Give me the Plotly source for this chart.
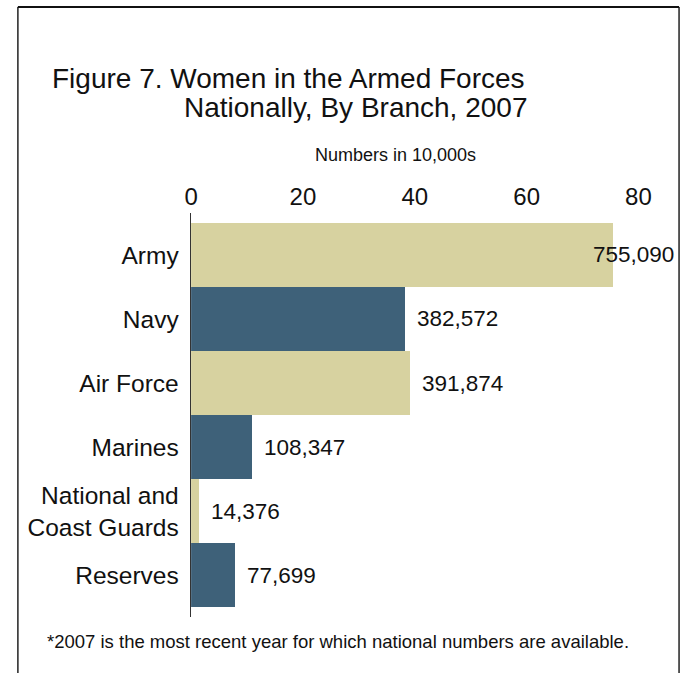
import plotly.graph_objects as go

# Data (numbers in 10,000s)
branches = ["Army", "Navy", "Air Force", "Marines", "National and<br>Coast Guards", "Reserves"]
counts = [755090, 382572, 391874, 108347, 14376, 77699]
values_10k = [c / 10000 for c in counts]
value_labels = ["755,090", "382,572", "391,874", "108,347", "14,376", "77,699"]
tick_vals = [0, 20, 40, 60, 80]
tick_text = ["0", "20", "40", "60", "80"]

BEIGE = "#D7D2A0"
BLUE = "#3E6179"
bar_colors = [BEIGE if i % 2 == 0 else BLUE for i in range(len(branches))]

FONT = "Arial, 'Liberation Sans', sans-serif"
W, H = 684, 673

fig = go.Figure()
fig.add_trace(go.Bar(
    x=values_10k, y=branches, orientation="h",
    marker=dict(color=bar_colors, line=dict(width=0)),
    hoverinfo="skip",
))

# value labels
for i, (v, t) in enumerate(zip(values_10k, value_labels)):
    shift = -22 if i == 0 else 10
    fig.add_annotation(x=v, y=branches[i], text=t, showarrow=False,
                       xanchor="left", yanchor="middle", xshift=shift,
                       font=dict(family=FONT, size=22.5, color="#111"))

x_left, x_right = 186 / W, 660.6 / W
y_top, y_bot = 1 - 213 / H, 1 - 617 / H

fig.update_layout(
    width=W, height=H,
    margin=dict(l=0, r=0, t=0, b=0),
    paper_bgcolor="white", plot_bgcolor="white",
    showlegend=False,
    bargap=0,
    hovermode=False,
    font=dict(family=FONT, color="#111"),
    xaxis=dict(domain=[x_left, x_right], range=[0, 84], side="top",
               tickvals=tick_vals, ticktext=tick_text,
               tickfont=dict(size=24, family=FONT, color="#111"),
               showgrid=False, zeroline=False, showline=False, ticks="",
               ticklabelstandoff=2),
    yaxis=dict(domain=[y_bot, y_top], range=[5.656, -0.656],
               categoryorder="array", categoryarray=branches,
               tickfont=dict(size=24.5, family=FONT, color="#111"),
               showgrid=False, zeroline=False, showline=True,
               linecolor="#333", linewidth=1.5, ticks="",
               ticklabelstandoff=6),
)

# titles and notes
fig.add_annotation(xref="paper", yref="paper", x=43 / W, y=1 - 78 / H,
                   text="Figure 7. Women in the Armed Forces", showarrow=False,
                   xanchor="left", yanchor="middle",
                   font=dict(family=FONT, size=28, color="#111"))
fig.add_annotation(xref="paper", yref="paper", x=177 / W, y=1 - 108 / H,
                   text="Nationally, By Branch, 2007", showarrow=False,
                   xanchor="left", yanchor="middle",
                   font=dict(family=FONT, size=28, color="#111"))
fig.add_annotation(xref="paper", yref="paper", x=393 / W, y=1 - 155 / H,
                   text="Numbers in 10,000s", showarrow=False,
                   xanchor="center", yanchor="middle",
                   font=dict(family=FONT, size=18, color="#111"))
fig.add_annotation(xref="paper", yref="paper", x=38 / W, y=1 - 641 / H,
                   text="*2007 is the most recent year for which national numbers are available.",
                   showarrow=False, xanchor="left", yanchor="middle",
                   font=dict(family=FONT, size=18.5, color="#111"))

# frame
frame = dict(color="#222", width=1.5)
fig.add_shape(type="line", xref="paper", yref="paper", x0=11 / W, x1=11 / W, y0=0, y1=1 - 7 / H, line=frame)
fig.add_shape(type="line", xref="paper", yref="paper", x0=679 / W, x1=679 / W, y0=0, y1=1 - 7 / H, line=frame)
fig.add_shape(type="line", xref="paper", yref="paper", x0=11 / W, x1=679 / W, y0=1 - 7 / H, y1=1 - 7 / H, line=dict(color="#111", width=2))

fig.write_html("out.html",
               config={"displayModeBar": False, "staticPlot": True},
               post_script="document.body.style.margin='0';document.body.style.overflow='hidden';")
